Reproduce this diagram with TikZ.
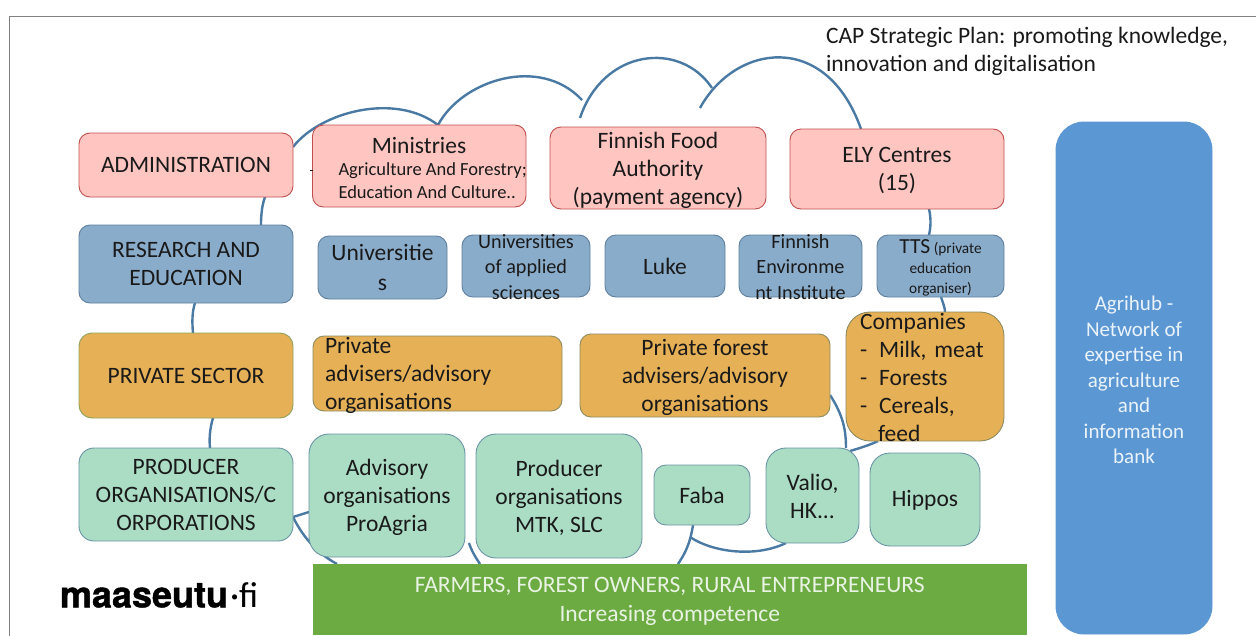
\documentclass[tikz,border=0pt]{standalone}
\usepackage{fontspec}
\setmainfont{Carlito}
\newfontfamily\logofont[BoldFeatures={FakeBold=1.2}]{TeX Gyre Heros}
\usetikzlibrary{backgrounds}
\definecolor{pinkf}{HTML}{FFC5C1}
\definecolor{pinkd}{HTML}{C0504D}
\definecolor{bluef}{HTML}{8AACCB}
\definecolor{blued}{HTML}{5F7F9F}
\definecolor{orf}{HTML}{E6B056}
\definecolor{ord}{HTML}{8C8C60}
\definecolor{orgd}{HTML}{8FA35A}
\definecolor{grf}{HTML}{ABDCC4}
\definecolor{grd}{HTML}{6A95A5}
\definecolor{hubf}{HTML}{5B97D3}
\definecolor{farm}{HTML}{6CAB42}
\definecolor{conn}{HTML}{4A7AA3}
\definecolor{ink}{HTML}{1A1A1A}
\tikzset{
  boxbase/.style={inner sep=0pt,outer sep=0pt,line width=0.9pt},
  pinkbox/.style={boxbase,draw=pinkd,fill=pinkf,rounded corners=11pt},
  bluebox/.style={boxbase,draw=blued,fill=bluef,rounded corners=11pt},
  orbox/.style={boxbase,draw=ord,fill=orf,rounded corners=11pt},
  orgbox/.style={boxbase,draw=orgd,fill=orf,rounded corners=13pt},
  grbox/.style={boxbase,draw=grd,fill=grf,rounded corners=12pt},
  bigr/.style={grbox,rounded corners=20pt},
  txt/.style={inner sep=0pt,outer sep=0pt,text=ink,align=center,font=\fontsize{23.5}{28}\selectfont},
  link/.style={draw=conn,line width=2.4pt}
}
% \bx[label options]{name}{x1}{y1}{x2}{y2}{style}{text}
\newcommand{\bx}[8][]{%
  \pgfmathsetmacro{\cxx}{(#3+#5)/2}\pgfmathsetmacro{\cyy}{(#4+#6)/2}%
  \pgfmathsetmacro{\wdd}{#5-#3}\pgfmathsetmacro{\htt}{#6-#4}%
  \node[#7,minimum width=\wdd pt,minimum height=\htt pt] (#2) at (\cxx,\cyy) {};
  \node[txt,#1] (#2-t) at (\cxx,\cyy) {#8};
}
\pgfdeclarelayer{links}\pgfsetlayers{links,main}
\begin{document}
\begin{tikzpicture}[x=1pt,y=-1pt]
\useasboundingbox (0,0) rectangle (1256,635);
\draw[gray,line width=1.4pt] (9.5,640) -- (9.5,16.5) -- (1260,16.5);

\bx{admin}{79}{133}{293}{197}{pinkbox}{ADMINISTRATION}
\bx{minis}{312.5}{125}{526}{207}{pinkbox}{}
\node[txt] (minis-a) at (419,145) {Ministries};
\node[txt,font=\fontsize{18.5}{23}\selectfont,align=left,anchor=west] (minis-b) at (338.5,181) {Agriculture And Forestry;\\Education And Culture..};
\bx[yshift=-2pt]{food}{550}{127}{766}{209}{pinkbox}{Finnish Food\\Authority\\(payment agency)}
\bx[yshift=-2pt]{ely}{790}{129}{1004}{209}{pinkbox}{ELY Centres\\(15)}

\bx{research}{79}{225}{293}{303}{bluebox}{RESEARCH AND\\EDUCATION}
\bx[font=\fontsize{23.5}{29.5}\selectfont]{univ}{318}{236}{447}{299}{bluebox}{Universitie\\s}
\bx[font=\fontsize{20.2}{25.5}\selectfont,yshift=-1pt]{uas}{462}{235}{590}{297}{bluebox}{Universities\\of applied\\sciences}
\bx{luke}{605}{235}{725}{297}{bluebox}{Luke}
\bx[font=\fontsize{20.2}{25.5}\selectfont,yshift=-1pt]{fei}{739}{235}{862}{297}{bluebox}{Finnish\\Environme\\nt Institute}
\bx[font=\fontsize{15.3}{20}\selectfont,yshift=-2pt]{tts}{877}{235}{1004}{297}{bluebox}{{\fontsize{21.5}{20}\selectfont TTS} (private\\education\\organiser)}

\bx{privs}{79}{333}{293}{418}{orgbox}{PRIVATE SECTOR}
\bx[text width=237pt,align=left,xshift=6pt,yshift=-2pt]{priva}{313}{336}{562}{411}{orbox}{Private\\advisers/advisory\\organisations}
\bx[yshift=-2pt]{forest}{580}{334}{830}{417}{orbox}{Private forest\\advisers/advisory\\organisations}
\bx[text width=142pt,align=left,xshift=6pt,yshift=-1pt]{comp}{846}{312}{1004}{441}{orbox,rounded corners=24pt}{Companies\\-\hspace{12pt}Milk, meat\\-\hspace{12pt}Forests\\-\hspace{12pt}Cereals,\\\hspace*{18pt}feed}

\bx{prod}{79}{448}{293}{541}{grbox,rounded corners=15pt}{PRODUCER\\ORGANISATIONS/C\\ORPORATIONS}
\bx[yshift=-2pt]{advi}{309}{434}{465}{557}{bigr}{Advisory\\organisations\\ProAgria}
\bx[yshift=-2pt]{prodo}{476}{434}{642}{558}{bigr}{Producer\\organisations\\MTK, SLC}
\bx{faba}{654}{465}{750}{525}{grbox}{Faba}
\bx[yshift=-1pt]{valio}{766}{448}{859}{543}{bigr}{Valio,\\HK...}
\bx[yshift=-1pt]{hippos}{870}{453}{980}{546}{bigr}{Hippos}

\bx[text=white!88!hubf,font=\fontsize{21}{25.5}\selectfont,yshift=-2pt]{hub}{1056}{122}{1212}{634}{boxbase,fill=hubf,draw=hubf,rounded corners=28pt}{Agrihub -\\Network of\\expertise in\\agriculture\\and\\information\\bank}
\bx[text=white!85!farm,font=\fontsize{23.5}{28.5}\selectfont,yshift=-2pt]{farmers}{312.5}{564}{1027}{635}{boxbase,fill=farm}{FARMERS, FOREST OWNERS, RURAL ENTREPRENEURS\\Increasing competence}

\node[txt,anchor=west,align=left] (cap) at (826,51) {CAP Strategic Plan: promoting knowledge,\\innovation and digitalisation};
\node[txt,anchor=west,text=black,font=\fontsize{36}{38}\logofont\bfseries\selectfont] (logo) at (60,595) {maaseutu{\normalfont\fontsize{36}{38}\selectfont\kern2pt·f{}i}};

\begin{pgfonlayer}{links}
\coordinate (c3) at (580,118);
\coordinate (c4) at (700,108);
\draw[link] ([yshift=-14pt]admin.north east) .. controls (320,112) and (395,92) .. ([xshift=125.5pt]minis.north west);
\draw[link] ([xshift=125.5pt]minis.north west) .. controls (462,80) and (540,55) .. (582,100);
\draw[link] (c3) .. controls (603,49) and (680,40) .. (712,88);
\draw[link] (c4) .. controls (735,44) and (826,30) .. ([xshift=71pt]ely.north west);
\draw[link] ([xshift=186pt]admin.south west) .. controls (262,205) and (261,215) .. ([xshift=182pt]research.north west);
\draw[link] ([xshift=116pt]research.south west) .. controls (192,312) and (192,322) .. ([xshift=114pt]privs.north west);
\draw[link] ([xshift=134pt]privs.south west) .. controls (210,428) and (209,438) .. ([xshift=131pt]prod.north west);
\draw[link] ([xshift=139pt]ely.south west) .. controls (931,218) and (931,226) .. ([xshift=52pt]tts.north west);
\draw[link] ([xshift=64pt]tts.south west) .. controls (943,303) and (945,308) .. ([xshift=99pt]comp.north west);
\draw[link] ([yshift=24pt]prod.south east) -- ([yshift=45pt]advi.south west);
\draw[link] ([yshift=24pt]prod.south east) .. controls (302,535) and (315,552) .. ([xshift=24.5pt]farmers.north west);
\draw[link] (469,543) .. controls (472,552) and (476,558) .. ([xshift=167.5pt]farmers.north west);
\draw[link] ([xshift=39pt]faba.south west) .. controls (690,545) and (684,555) .. ([xshift=365.5pt]farmers.north west);
\draw[link] (690,537) .. controls (712,552) and (755,558) .. ([xshift=20pt]valio.south west);
\draw[link] ([yshift=22pt]forest.south east) .. controls (843,415) and (846,430) .. ([xshift=80pt]valio.north west);
\draw[link] (850,451) .. controls (860,448) and (870,445) .. ([xshift=32pt]comp.south west);
\end{pgfonlayer}
\draw[line width=0.7pt,ink] (309.5,170) -- (313,170);
\end{tikzpicture}
\end{document}
